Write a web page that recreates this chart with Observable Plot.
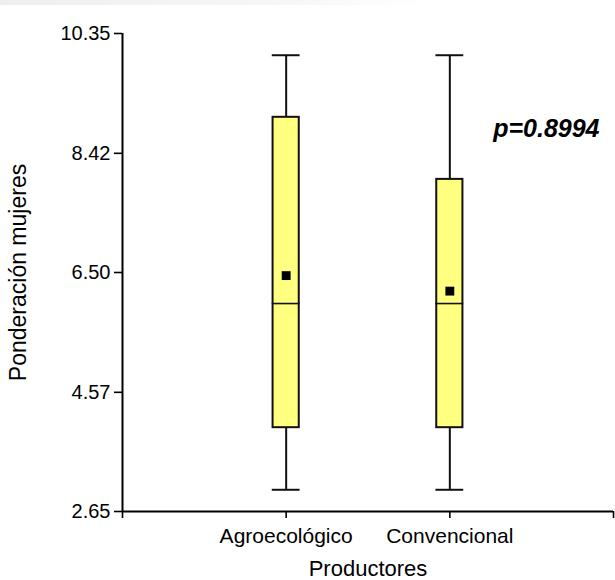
<!DOCTYPE html>
<html>
<head>
<meta charset="utf-8">
<script src="https://cdn.jsdelivr.net/npm/d3@7"></script>
<script src="https://cdn.jsdelivr.net/npm/@observablehq/plot@0.6"></script>
<style>
  html, body { margin: 0; padding: 0; background: #fff; }
  #wrap { position: relative; width: 615px; height: 580px; }
  #band { position: absolute; left: 0; top: 0; width: 615px; height: 5px;
          background: linear-gradient(to right, #eeeeee, #f8f8f8 50%, #ffffff 70%); }
  svg { display: block; }
</style>
</head>
<body>
<div id="wrap"><div id="band"></div><div id="chart"></div></div>
<script>
// ---- data ----
const categories = ["Agroecológico", "Convencional"];
const minVals    = [3.0, 3.0];
const q1Vals     = [4.0, 4.0];
const medianVals = [6.0, 6.0];
const q3Vals     = [9.0, 8.0];
const maxVals    = [10.0, 10.0];
const meanVals   = [6.45, 6.2];
const yTicks     = [2.65, 4.57, 6.50, 8.42, 10.35];
const yTitle     = "Ponderación mujeres";
const xTitle     = "Productores";
const pLabel     = "p=0.8994";

// table built from the arrays (category index positions 1..n on a linear x)
const rows = categories.map((c, i) => ({
  cat: c, i: i + 1,
  min: minVals[i], q1: q1Vals[i], med: medianVals[i],
  q3: q3Vals[i], max: maxVals[i], mean: meanVals[i]
}));

const boxHalf = 0.08, capHalf = 0.085;
const font = "'Liberation Sans', Arial, Helvetica, sans-serif";

const chart = Plot.plot({
  width: 615,
  height: 580,
  marginLeft: 122,
  marginRight: 2,
  marginTop: 33,
  marginBottom: 69,
  style: { fontFamily: font, background: "transparent", color: "#000" },
  x: { type: "linear", domain: [0, categories.length + 1] },
  y: { domain: [yTicks[0], yTicks[yTicks.length - 1]] },
  marks: [
    Plot.axisY({
      ticks: yTicks, tickFormat: d => d.toFixed(2), tickSize: 8, tickPadding: 4,
      fontSize: 20, strokeWidth: 1.6, label: null
    }),
    Plot.axisX({
      ticks: d3.range(0, categories.length + 2),
      tickFormat: d => categories[d - 1] ?? "",
      tickSize: 7, tickPadding: 10, fontSize: 21, strokeWidth: 1.6, label: null
    }),
    // axis lines
    Plot.ruleX([0], { y1: yTicks[0], y2: yTicks[yTicks.length - 1], stroke: "#000", strokeWidth: 2 }),
    Plot.ruleY([yTicks[0]], { x1: 0, x2: categories.length + 1, stroke: "#000", strokeWidth: 1.8 }),
    // whiskers
    Plot.ruleX(rows, { x: "i", y1: "min", y2: "max", stroke: "#111", strokeWidth: 2 }),
    Plot.ruleY(rows, { y: "min", x1: d => d.i - capHalf, x2: d => d.i + capHalf, stroke: "#111", strokeWidth: 2 }),
    Plot.ruleY(rows, { y: "max", x1: d => d.i - capHalf, x2: d => d.i + capHalf, stroke: "#111", strokeWidth: 2 }),
    // boxes
    Plot.rect(rows, {
      x1: d => d.i - boxHalf, x2: d => d.i + boxHalf, y1: "q1", y2: "q3",
      fill: "#ffff80", stroke: "#111", strokeWidth: 2
    }),
    // medians
    Plot.ruleY(rows, { y: "med", x1: d => d.i - capHalf, x2: d => d.i + capHalf, stroke: "#111", strokeWidth: 1.6 }),
    // means
    Plot.dot(rows, { x: "i", y: "mean", symbol: "square", r: 5, fill: "#000", stroke: "none" }),
    // titles
    Plot.text([yTitle], {
      frameAnchor: "left", rotate: -90, dx: -104, textAnchor: "middle", lineAnchor: "middle",
      fontSize: 23, fill: "#000"
    }),
    Plot.text([xTitle], {
      frameAnchor: "bottom", dy: 64, textAnchor: "middle", lineAnchor: "bottom",
      fontSize: 22, fill: "#000"
    }),
    // p-value annotation
    Plot.text([pLabel], {
      frameAnchor: "top-right", dx: -14, dy: 103, textAnchor: "end", lineAnchor: "bottom",
      fontSize: 25, fontWeight: "bold", fontStyle: "italic", fill: "#000"
    })
  ]
});
document.getElementById("chart").appendChild(chart);
</script>
</body>
</html>
